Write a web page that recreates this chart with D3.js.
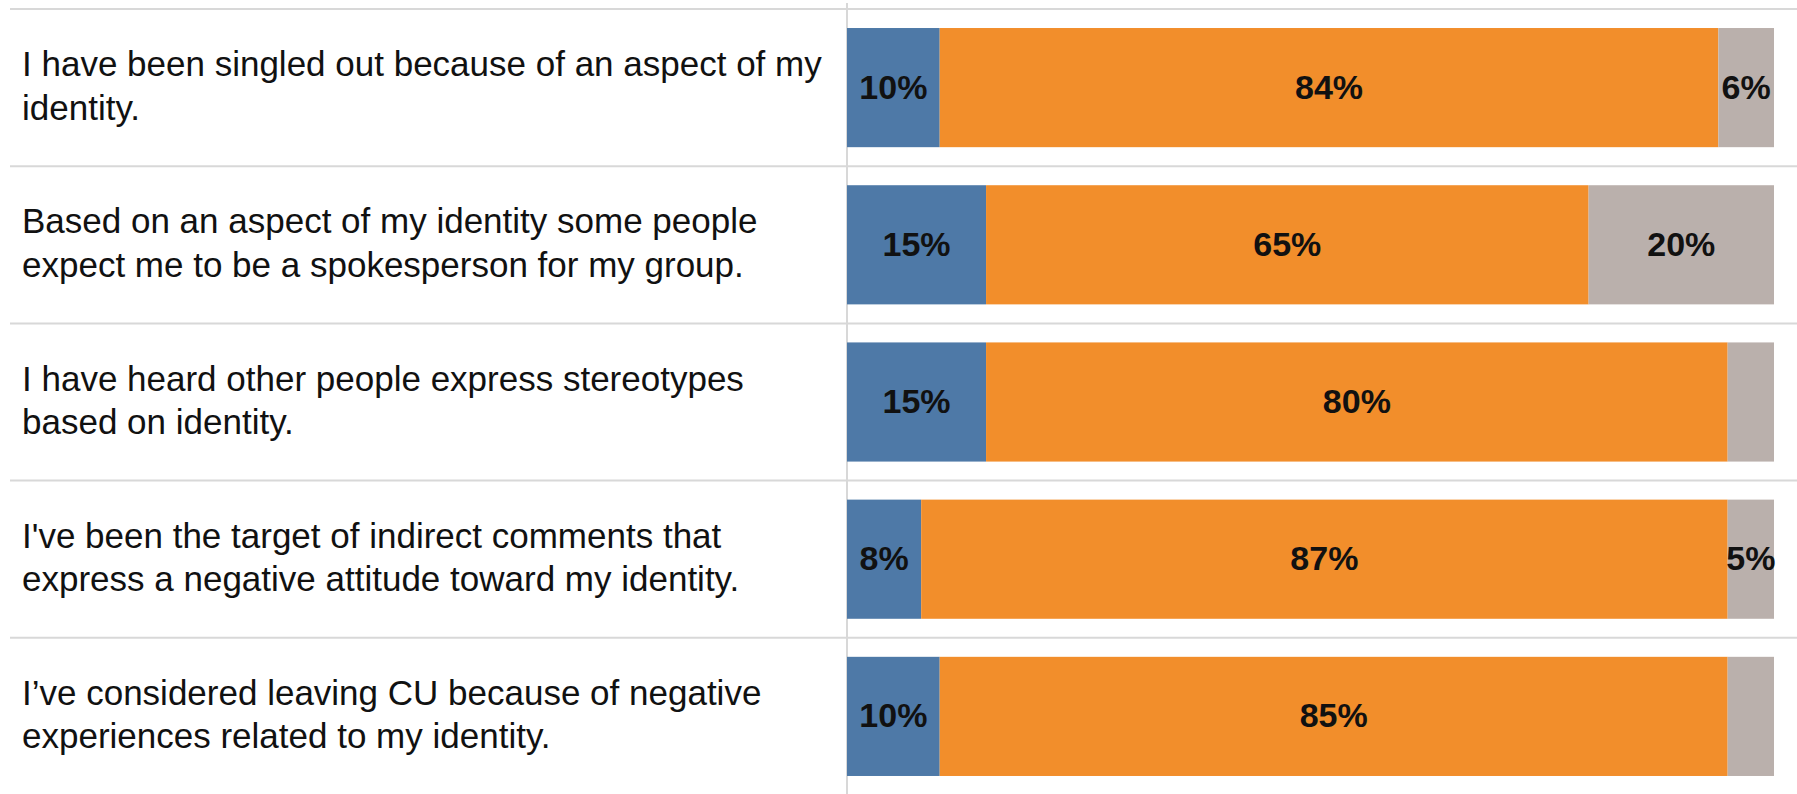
<!DOCTYPE html>
<html>
<head>
<meta charset="utf-8">
<script src="https://cdn.jsdelivr.net/npm/d3@7"></script>
<style>
  html, body { margin: 0; padding: 0; background: #ffffff; }
  svg { display: block; }
</style>
</head>
<body>
<svg id="chart" width="1797" height="794"></svg>
<script>
// Survey statements (each line of a wrapped label separated by "\n")
const categories = [
  "I have been singled out because of an aspect of my\nidentity.",
  "Based on an aspect of my identity some people\nexpect me to be a spokesperson for my group.",
  "I have heard other people express stereotypes\nbased on identity.",
  "I've been the target of indirect comments that\nexpress a negative attitude toward my identity.",
  "I\u2019ve considered leaving CU because of negative\nexperiences related to my identity."
];

// Response shares, in percent
const seriesKeys = ["first", "second", "third"];
const firstValues  = [10, 15, 15, 8, 10];
const secondValues = [84, 65, 80, 87, 85];
const thirdValues  = [6, 20, 5, 5, 5];
// whether each third segment carries a value label
const thirdLabelShown = [true, true, false, true, false];

const seriesColors = ["#4e79a7", "#f28e2b", "#bab0ac"];

const rows = categories.map((c, i) => ({
  category: c,
  first: firstValues[i],
  second: secondValues[i],
  third: thirdValues[i],
  showThird: thirdLabelShown[i]
}));

const svg = d3.select("#chart");
const W = 1797, H = 794;
const barLeft = 847, barRight = 1774;
const rowsTop = 9, rowsBottom = 795;

const x = d3.scaleLinear().domain([0, 100]).range([barLeft, barRight]);
const y = d3.scaleBand().domain(categories).range([rowsTop, rowsBottom]).padding(0);
const bw = y.bandwidth();
const barPad = bw * 0.121;
const barH = bw - 2 * barPad;

const stacked = d3.stack().keys(seriesKeys)(rows);

// row separators
svg.append("g")
  .selectAll("line")
  .data(categories)
  .join("line")
  .attr("x1", 10)
  .attr("x2", W)
  .attr("y1", d => y(d))
  .attr("y2", d => y(d))
  .attr("stroke", "#d8d8d8")
  .attr("stroke-width", 2);

// vertical divider between labels and bars
svg.append("line")
  .attr("x1", barLeft).attr("x2", barLeft)
  .attr("y1", 3).attr("y2", H)
  .attr("stroke", "#d8d8d8")
  .attr("stroke-width", 2);

// stacked bars
const layers = svg.append("g")
  .selectAll("g")
  .data(stacked)
  .join("g")
  .attr("fill", (d, i) => seriesColors[i]);

layers.selectAll("rect")
  .data(d => d)
  .join("rect")
  .attr("x", d => x(d[0]))
  .attr("width", d => x(d[1]) - x(d[0]))
  .attr("y", d => y(d.data.category) + barPad)
  .attr("height", barH);

// value labels
const labelLayers = svg.append("g")
  .attr("font-family", "'Liberation Sans', Arial, Helvetica, sans-serif")
  .attr("font-size", 34)
  .attr("font-weight", "bold")
  .attr("fill", "#111111")
  .attr("text-anchor", "middle")
  .selectAll("g")
  .data(stacked)
  .join("g");

labelLayers.selectAll("text")
  .data(layer => layer
    .map(d => ({ d, key: layer.key }))
    .filter(o => !(o.key === "third" && !o.d.data.showThird)))
  .join("text")
  .attr("x", o => (x(o.d[0]) + x(o.d[1])) / 2)
  .attr("y", o => y(o.d.data.category) + bw / 2 + 11)
  .text(o => (o.d[1] - o.d[0]) + "%");

// statement labels
const labels = svg.append("g")
  .attr("font-family", "'Liberation Sans', Arial, Helvetica, sans-serif")
  .attr("font-size", 35)
  .attr("fill", "#111111")
  .selectAll("text")
  .data(categories)
  .join("text")
  .attr("x", 22)
  .attr("y", d => y(d) + bw / 2 - 11.5);

labels.selectAll("tspan")
  .data(d => d.split("\n"))
  .join("tspan")
  .attr("x", 22)
  .attr("dy", (d, i) => i === 0 ? 0 : 43.5)
  .text(d => d);
</script>
</body>
</html>
